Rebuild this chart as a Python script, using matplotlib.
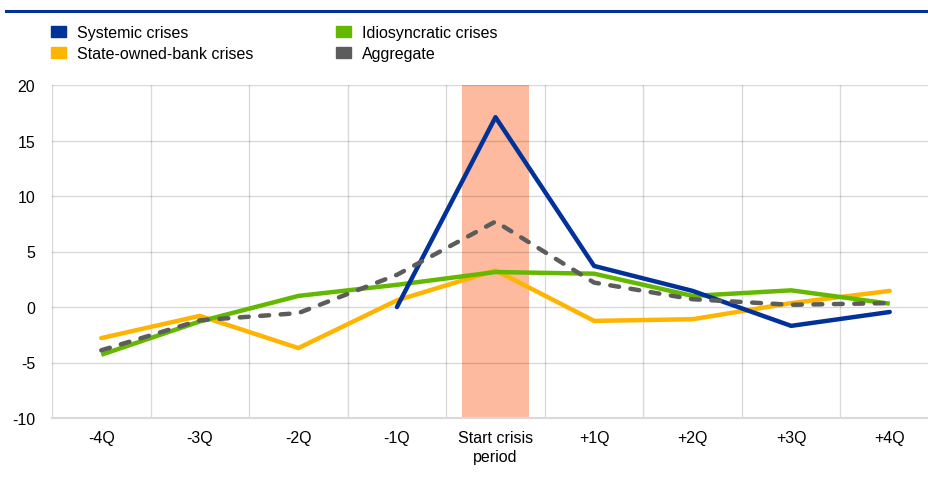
import matplotlib
matplotlib.use("Agg")
import matplotlib.pyplot as plt
from matplotlib.patches import Patch
import numpy as np

plt.rcParams['font.family'] = ['Liberation Sans', 'DejaVu Sans']

categories = ["-4Q", "-3Q", "-2Q", "-1Q", "Start crisis\nperiod", "+1Q", "+2Q", "+3Q", "+4Q"]
systemic = [None, None, None, 0.0, 17.1, 3.7, 1.45, -1.7, -0.45]
state_owned = [-2.8, -0.8, -3.7, 0.6, 3.3, -1.25, -1.1, 0.35, 1.45]
idiosyncratic = [-4.3, -1.3, 1.0, 2.0, 3.15, 3.0, 1.0, 1.5, 0.3]
aggregate = [-3.9, -1.2, -0.55, 2.9, 7.7, 2.2, 0.7, 0.2, 0.35]
yticks = [-10, -5, 0, 5, 10, 15, 20]

W, H = 929, 481
fig = plt.figure(figsize=(W/100, H/100), dpi=100)
ax = fig.add_axes([52/W, 1-419/H, (939-52)/W, (419-86)/H])

x = np.arange(len(categories))
blue = "#003299"; yellow = "#FFB400"; green = "#65B800"; gray = "#5C5C5C"

ax.axvspan(4-0.335, 4+0.335, color="#FDBA9E", zorder=1, lw=0)

sx = [i for i, v in enumerate(systemic) if v is not None]
sv = [v for v in systemic if v is not None]
ax.plot(x, state_owned, color=yellow, lw=3.2, zorder=3, solid_capstyle='round')
ax.plot(x, idiosyncratic, color=green, lw=3.2, zorder=4, solid_capstyle='butt')
ax.plot(sx, sv, color=blue, lw=3.2, zorder=5, solid_capstyle='round')
ax.plot(x, aggregate, color=gray, lw=3.2, ls=(0, (2.0, 2.6)), zorder=6, dash_capstyle='round')

ax.set_xlim(-0.5, len(categories)-0.5)
ax.set_ylim(-10, 20)
ax.set_yticks(yticks)
ax.set_yticklabels([str(t) for t in yticks])
ax.set_xticks(x)
ax.set_xticklabels(categories, linespacing=1.3)
ax.grid(False)
for t in yticks[1:]:
    ax.axhline(t, color="#000000", alpha=0.15, lw=1, zorder=2)
for b in np.arange(-0.5, len(categories)):
    ax.axvline(b, color="#000000", alpha=0.15, lw=1, zorder=2)
for s in ["top", "right", "left"]:
    ax.spines[s].set_visible(False)
ax.spines["bottom"].set_color("#D9D9D9")
ax.spines["bottom"].set_linewidth(1.5)
ax.tick_params(axis='both', which='both', length=0, labelsize=11.5, colors="#000000")
ax.tick_params(axis='x', pad=9)
ax.tick_params(axis='y', pad=12)

fig.add_artist(plt.Line2D([6/W, 1], [1-12/H, 1-12/H], color=blue, lw=2.2))

handles = [Patch(color=blue, label="Systemic crises"),
           Patch(color=yellow, label="State-owned-bank crises"),
           Patch(color=green, label="Idiosyncratic crises"),
           Patch(color=gray, label="Aggregate")]
fig.legend(handles=handles, loc="upper left", bbox_to_anchor=(45/W, 1-20/H), ncol=2,
           frameon=False, fontsize=11.5, handlelength=0.9, handleheight=0.7,
           handletextpad=0.7, columnspacing=5.2, labelspacing=0.35, borderaxespad=0)

fig.savefig("out.png", dpi=100)
